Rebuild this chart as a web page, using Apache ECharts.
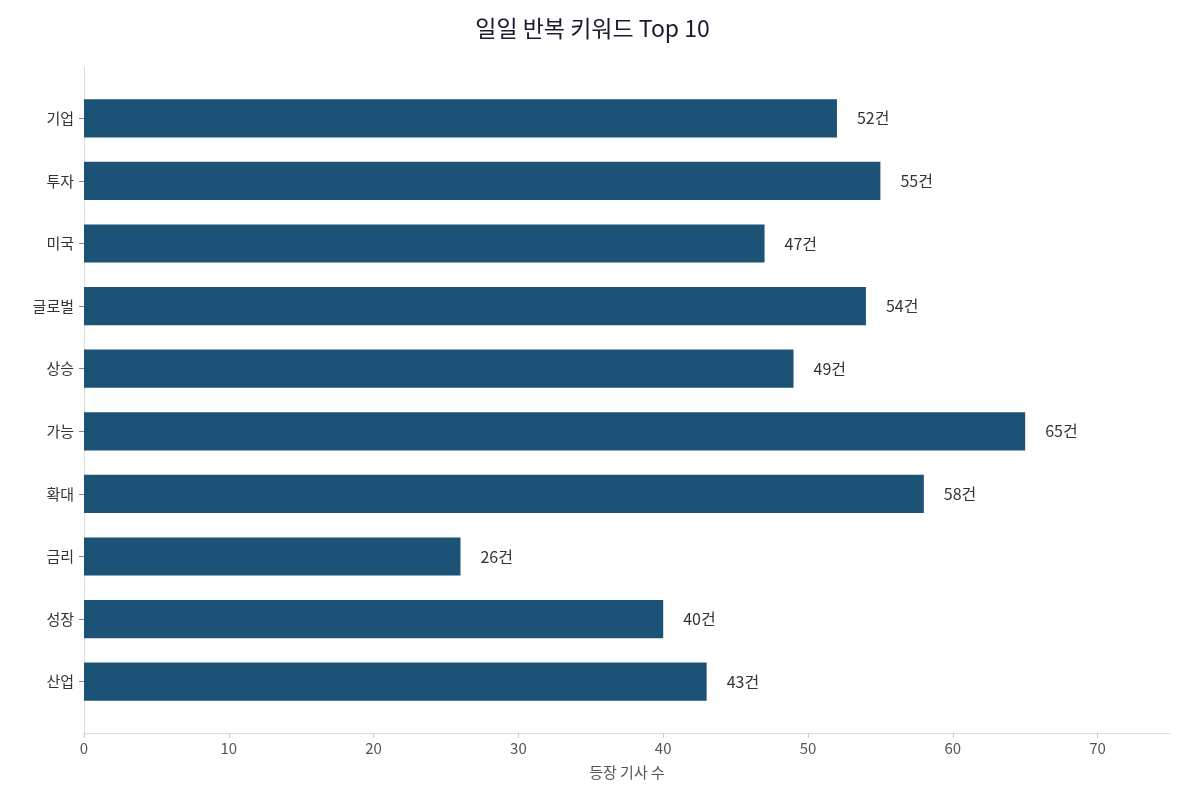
<!DOCTYPE html>
<html><head><meta charset="utf-8">
<script src="https://cdn.jsdelivr.net/npm/echarts@6/dist/echarts.min.js"></script>
<style>html,body{margin:0;padding:0;background:#fff}#c{width:1185px;height:809px}</style>
</head><body><div id="c"></div>
<script>
const categories = ['기업','투자','미국','글로벌','상승','가능','확대','금리','성장','산업'];
const values = [52,55,47,54,49,65,58,26,40,43];
const chart = echarts.init(document.getElementById('c'));
const font = '"Noto Sans CJK KR","Noto Sans",sans-serif';
chart.setOption({
  textStyle:{fontFamily:font},
  title:{text:'일일 반복 키워드 Top 10',left:'center',top:12,textStyle:{fontSize:23,fontWeight:'normal',color:'#1a1a2e',fontFamily:font}},
  grid:[{left:84,right:15,top:87,bottom:96},{left:84,right:15,top:67,bottom:76}],
  xAxis:[{gridIndex:0,type:'value',min:0,max:75,show:false},
    {gridIndex:1,type:'value',min:0,max:75,interval:10,
    name:'등장 기사 수',nameLocation:'middle',nameGap:32,nameTextStyle:{fontSize:15,color:'#555'},
    axisLine:{show:true,lineStyle:{color:'#ddd'}},axisTick:{show:true,lineStyle:{color:'#ccc'}},
    axisLabel:{fontSize:15,color:'#555',showMaxLabel:false},splitLine:{show:false}}],
  yAxis:[{gridIndex:0,type:'category',data:categories,inverse:true,
    axisLine:{show:false},axisTick:{show:true,alignWithLabel:true,lineStyle:{color:'#888'}},
    axisLabel:{fontSize:15,color:'#333',margin:10}},
    {gridIndex:1,type:'value',min:0,max:1,axisLine:{show:true,lineStyle:{color:'#ddd'}},
    axisTick:{show:false},axisLabel:{show:false},splitLine:{show:false}}],
  series:[{type:'bar',xAxisIndex:0,yAxisIndex:0,data:values,barWidth:'61%',itemStyle:{color:'#1b5276'},
    label:{show:true,position:'right',distance:20,formatter:'{c}건',fontSize:16,color:'#333'}}]
});
</script></body></html>
